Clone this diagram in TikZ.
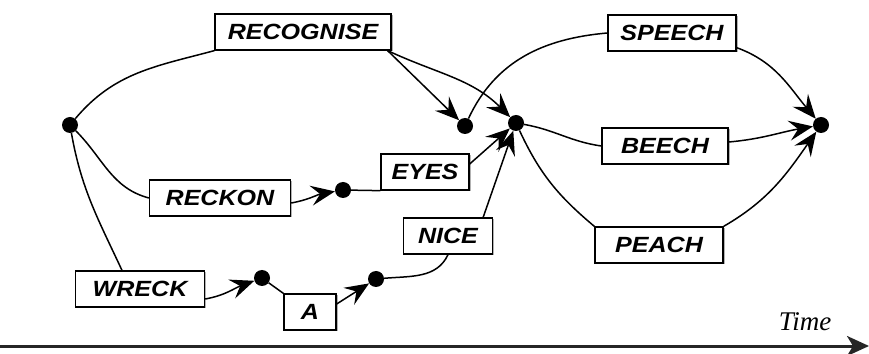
\documentclass[tikz,border=0pt]{standalone}
\usepackage{fontspec}
\newfontfamily\wordfont[FakeStretch=1.14]{Liberation Sans}
\newfontfamily\axisfont{Liberation Serif}
\usetikzlibrary{arrows.meta,shadows}

\begin{document}
\begin{tikzpicture}[x=1pt,y=1pt,
word/.style={draw,line width=1.3pt,fill=white,inner sep=0pt,
  minimum height=36pt,
  font=\wordfont\bfseries\itshape\fontsize{22}{22}\selectfont,
  drop shadow={shadow xshift=1.5pt,shadow yshift=-1.5pt,fill=black!60}},
dot/.style={circle,fill,inner sep=0pt,minimum size=16pt},
link/.style={line width=1.5pt},
arr/.style={link,-{Stealth[length=24pt,width=20pt,inset=9pt]}}]
\useasboundingbox (0,0) rectangle (869,353);

\node[word,minimum width=176pt] (recognise) at (303,321) {RECOGNISE};
\node[word,minimum width=128pt] (speech) at (672,320) {SPEECH};
\node[word,minimum width=126pt] (beech) at (665,207) {BEECH};
\node[word,minimum width=128pt] (peach) at (659,108) {PEACH};
\node[word,minimum width=141pt] (reckon) at (220,155) {RECKON};
\node[word,minimum width=88pt] (eyes) at (425,181) {EYES};
\node[word,minimum width=89pt] (nice) at (448,117) {NICE};
\node[word,minimum width=129pt] (wreck) at (140,64) {WRECK};
\node[word,minimum width=52pt] (a) at (310,41) {A};

\node[dot] (s) at (70,228) {};
\node[dot] (r) at (465,227) {};
\node[dot] (m) at (516,230) {};
\node[dot] (e) at (821,228) {};
\node[dot] (k) at (343,163) {};
\node[dot] (w) at (262,75) {};
\node[dot] (v) at (376,74) {};

\draw[link] (s) to[out=50,in=195] (recognise.south west);
\draw[link] (s) to[out=-45,in=165] (reckon.west);
\draw[link] (s) to[out=-80,in=115] ([xshift=-18pt]wreck.north);
\draw[arr] ([xshift=-4pt]recognise.south east) -- (r);
\draw[arr] ([xshift=-4pt]recognise.south east) to[out=-25,in=135] (m);
\draw[link] (r) to[out=65,in=185] (speech.west);
\draw[link] (m) to[out=-10,in=172] (beech.west);
\draw[link] (m) to[out=-65,in=140] (peach.north west);
\draw[arr] ([yshift=4pt]speech.south east) to[out=-20,in=130] (e);
\draw[arr] ([yshift=4pt]beech.east) to[out=5,in=190] (e);
\draw[arr] (peach.north east) to[out=30,in=-125] (e);
\draw[arr] ([yshift=-5pt]reckon.east) to[out=10,in=190] (k);
\draw[link] (k) -- (eyes.south west);
\draw[arr] ([yshift=8pt]eyes.east) -- (m);
\draw[arr] ([xshift=-10pt]nice.north east) -- (m);
\draw[arr] ([yshift=-10pt]wreck.east) to[out=10,in=200] (w);
\draw[link] (w) -- (a.north west);
\draw[arr] ([yshift=8pt]a.east) -- (v);
\draw[link] (v) to[out=5,in=-115] (nice.south);

\coordinate (t0) at (0,7);
\coordinate (t1) at (869,7);
\draw[line width=3pt,black!85,-{Stealth[length=22pt,width=20pt,inset=6pt]}] (t0) -- (t1);
\node[font=\axisfont\itshape\fontsize{27}{27}\selectfont,anchor=base] (time) at (805,23) {Time};
\end{tikzpicture}
\end{document}
